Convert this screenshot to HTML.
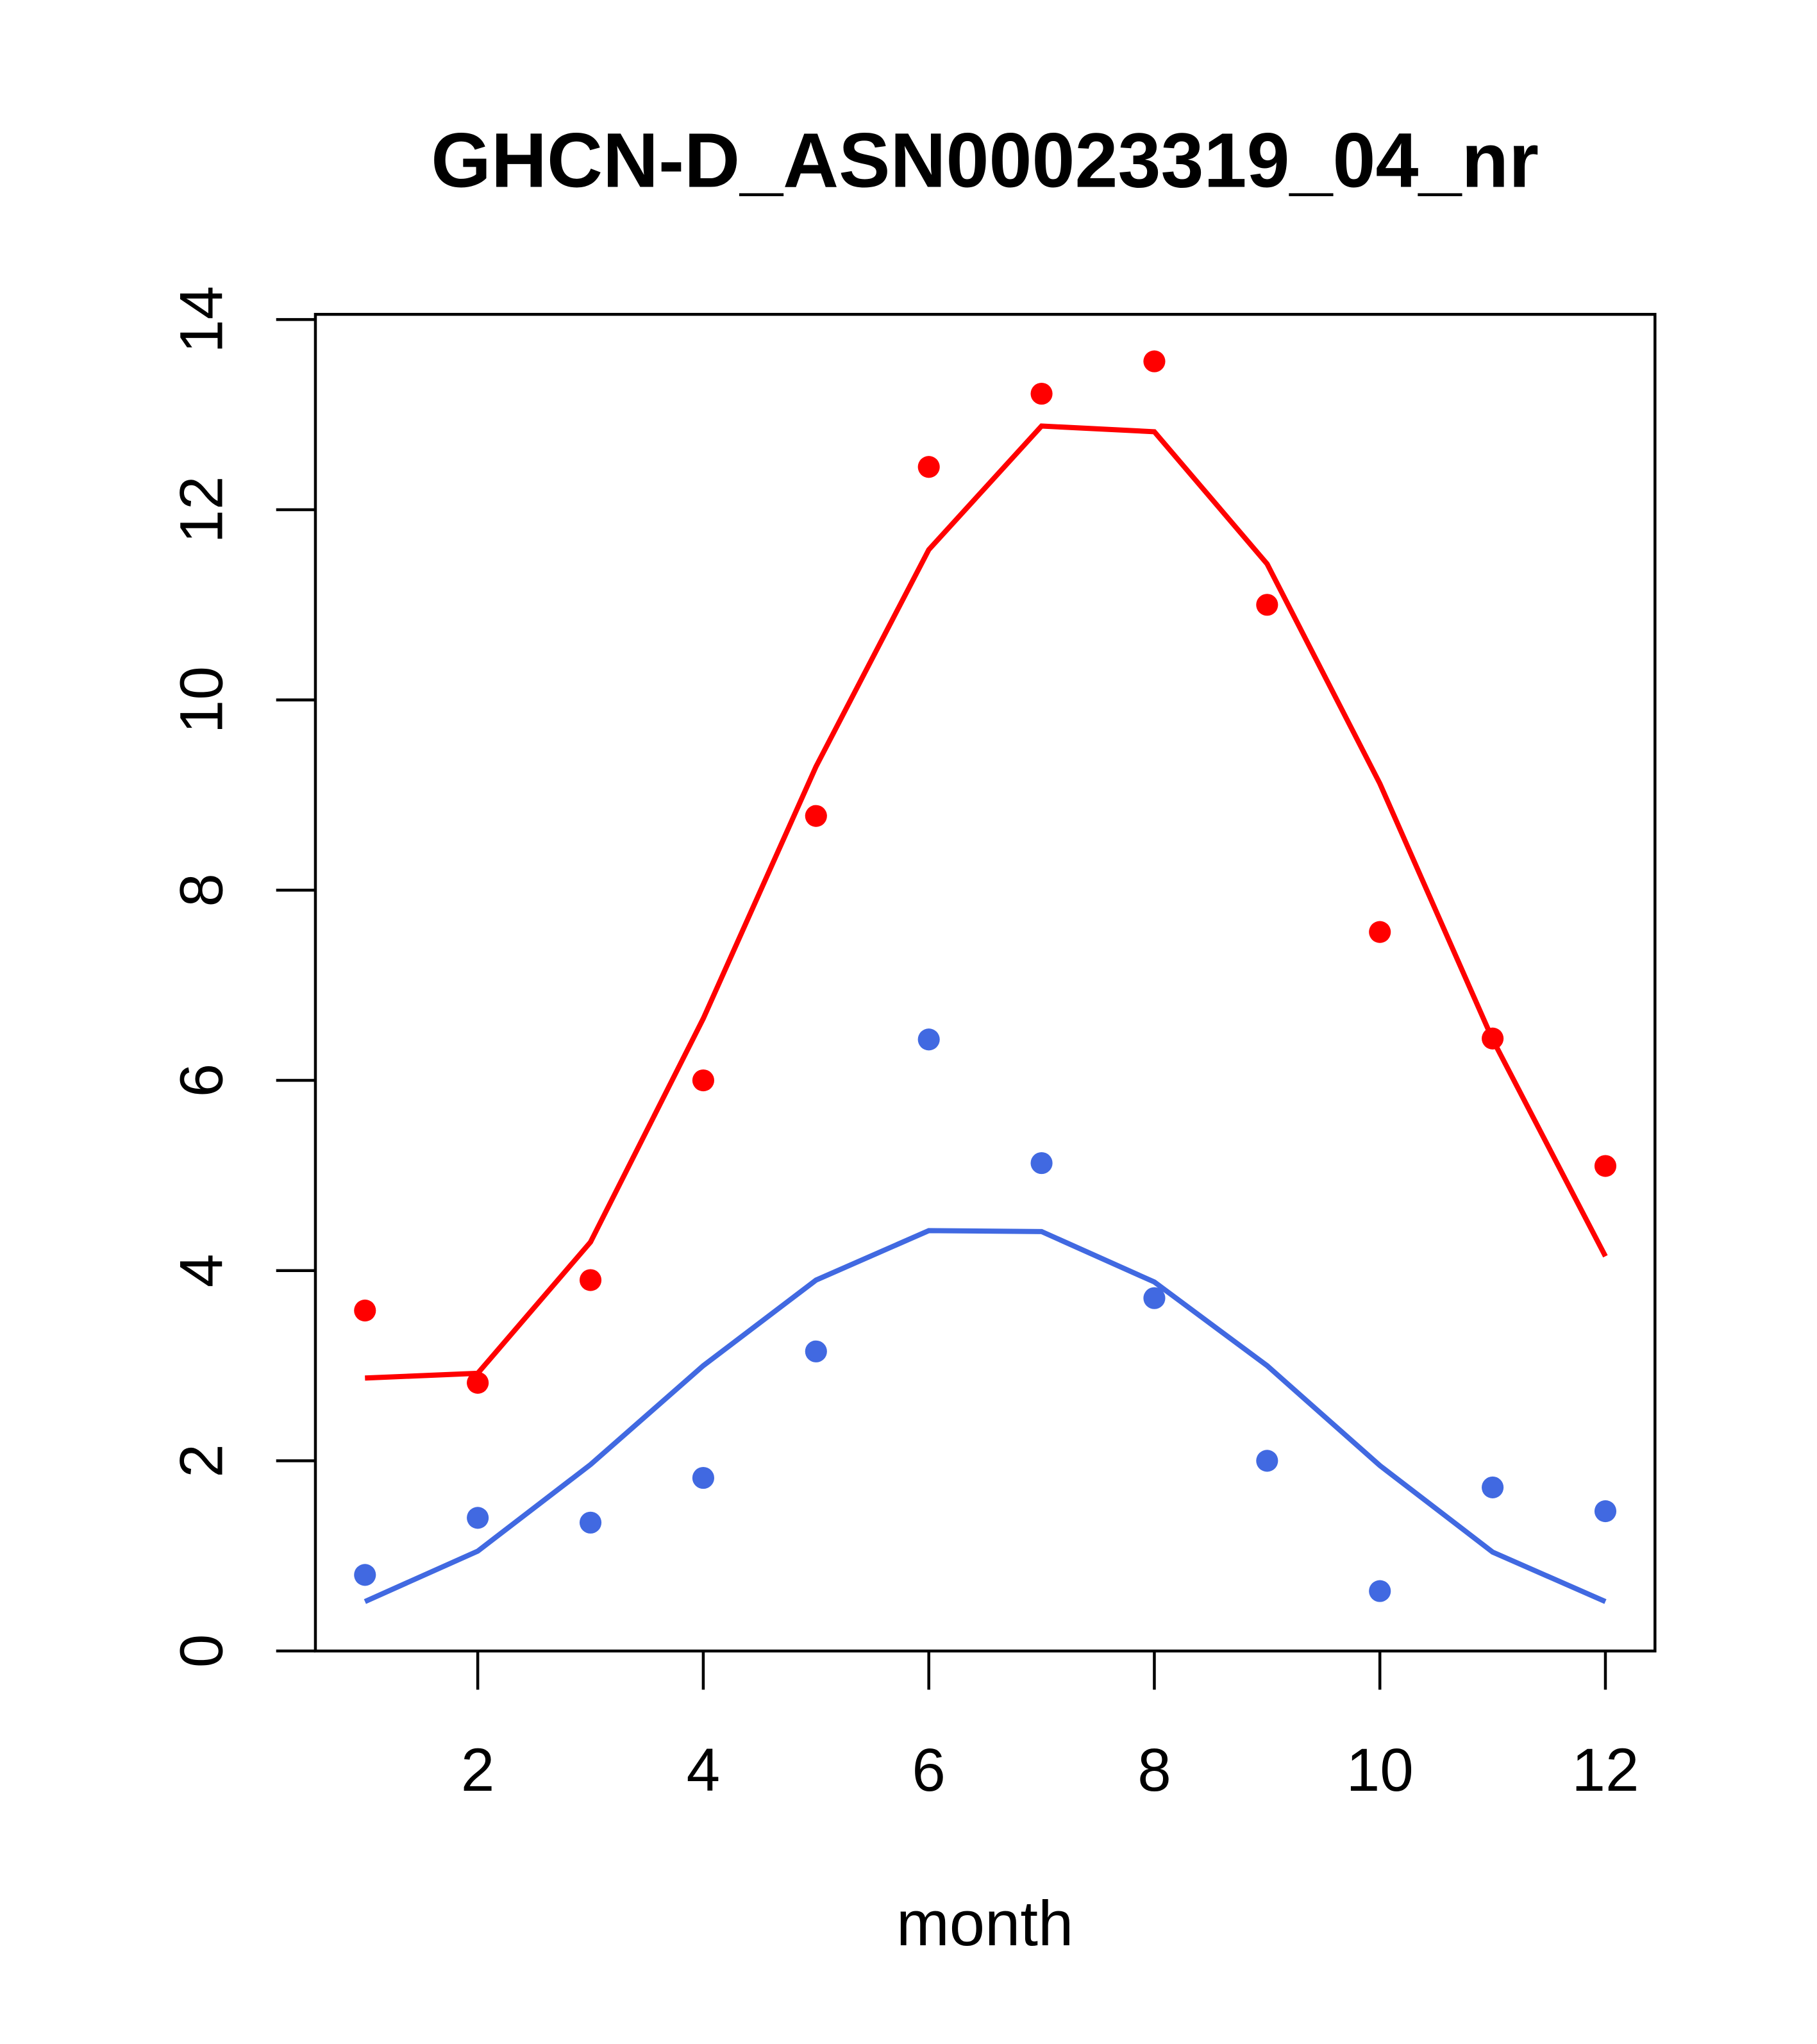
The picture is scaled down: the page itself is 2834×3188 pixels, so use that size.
<!DOCTYPE html>
<html><head><meta charset="utf-8"><style>
html,body{margin:0;padding:0;background:#fff;}
svg{display:block;font-family:"Liberation Sans",Arial,sans-serif;}
</style></head><body>
<svg id="chart" width="2834" height="3188" viewBox="0 0 2834 3188">
<g transform="scale(1.004 1.0047)">
<text x="1530" y="290" text-anchor="middle" font-size="120" font-weight="bold">GHCN-D_ASN00023319_04_nr</text>
<rect x="490" y="488" width="2081" height="2075" fill="none" stroke="#000" stroke-width="4.5"/>
<text x="1530" y="3020" text-anchor="middle" font-size="99">month</text>
<g id="axes"></g>
<g id="series"></g>
</g>
</svg>
<script>
const months=[1,2,3,4,5,6,7,8,9,10,11,12];
const redPoints=[3.58,2.82,3.9,6.0,8.78,12.45,13.22,13.56,11.0,7.56,6.44,5.1];
const redLine=[2.87,2.92,4.3,6.65,9.3,11.58,12.88,12.82,11.43,9.12,6.43,4.15];
const bluePoints=[0.8,1.4,1.35,1.82,3.15,6.43,5.13,3.71,2.0,0.63,1.72,1.47];
const blueLine=[0.52,1.05,1.96,3.0,3.9,4.42,4.41,3.88,3.0,1.95,1.04,0.52];
const xTicks=[2,4,6,8,10,12];
const yTicks=[0,2,4,6,8,10,12,14];
const NS='http://www.w3.org/2000/svg';
function xs(m){return 567+(m-1)*(2494-567)/11;}
function ys(v){return 2563-v*(2563-496)/14;}
function mk(tag,attrs,parent){const e=document.createElementNS(NS,tag);for(const k in attrs)e.setAttribute(k,attrs[k]);parent.appendChild(e);return e;}
const ax=document.getElementById('axes'),se=document.getElementById('series');
xTicks.forEach(t=>{
 const l=mk('line',{x1:xs(t),x2:xs(t),y1:2563,y2:2623,stroke:'#000','stroke-width':4.5},ax);
 
 
 const tx=mk('text',{x:xs(t),y:2780,'text-anchor':'middle','font-size':94},ax);tx.textContent=t;
 
 
});
yTicks.forEach(t=>{
 const l=mk('line',{x1:429,x2:490,y1:ys(t),y2:ys(t),stroke:'#000','stroke-width':4.5},ax);
 
 
 const tx=mk('text',{x:345,y:ys(t),'text-anchor':'middle','font-size':94,transform:`rotate(-90 345 ${ys(t)})`},ax);tx.textContent=t;
 
 
});
function line(vals,color,name){
 const p=mk('polyline',{points:vals.map((v,i)=>xs(months[i])+','+ys(v)).join(' '),fill:'none',stroke:color,'stroke-width':8},se);
 
 
}
function pts(vals,color,name){
 vals.forEach((v,i)=>{
  const c=mk('circle',{cx:xs(months[i]),cy:ys(v),r:17,fill:color},se);
  
  
 });
}
line(redLine,'#ff0000','red-line');
line(blueLine,'#4169e1','blue-line');
pts(redPoints,'#ff0000','red-point');
pts(bluePoints,'#4169e1','blue-point');
</script>
</body></html>
